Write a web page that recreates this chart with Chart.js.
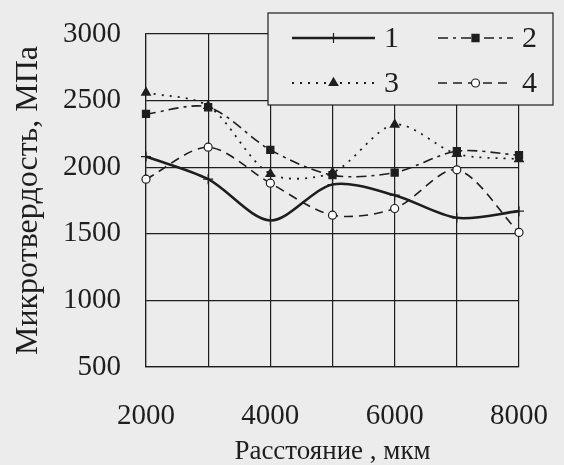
<!DOCTYPE html>
<html>
<head>
  <title>Микротвердость</title>
  <script src="https://cdn.jsdelivr.net/npm/chart.js"></script>
  <style>
    body { margin: 0; background: #ececec; }
    canvas { display: block; }
  </style>
</head>
<body>

<canvas id="hardChart" width="564" height="465"></canvas>

<script>
  // distances, mkm
  const distances = [2000, 3000, 4000, 5000, 6000, 7000, 8000];
  const series1 = [2080, 1910, 1600, 1870, 1790, 1620, 1670];
  const series2 = [2400, 2450, 2130, 1940, 1960, 2120, 2090];
  const series3 = [2560, 2460, 1950, 1960, 2320, 2100, 2060];
  const series4 = [1910, 2150, 1880, 1640, 1690, 1980, 1510];
  const seriesNames = ['1', '2', '3', '4'];
  const xTickLabels = [2000, 4000, 6000, 8000];

  const BG = '#ececec';
  const INK = '#1e1e1e';
  const FONT = "'Liberation Serif', 'DejaVu Serif', serif";

  const toPoints = vals => vals.map((v, i) => ({ x: distances[i], y: v }));

  const datasets = [
    { label: seriesNames[0], data: toPoints(series1), borderWidth: 2.6, borderDash: [],
      pointStyle: 'cross', pointRadius: 5, backgroundColor: INK },
    { label: seriesNames[1], data: toPoints(series2), borderWidth: 1.6, borderDash: [10, 5, 3, 5],
      pointStyle: 'rect', pointRadius: 5, backgroundColor: INK },
    { label: seriesNames[2], data: toPoints(series3), borderWidth: 1.8, borderDash: [2, 6],
      pointStyle: 'triangle', pointRadius: 5, backgroundColor: INK },
    { label: seriesNames[3], data: toPoints(series4), borderWidth: 1.6, borderDash: [9, 6],
      pointStyle: 'circle', pointRadius: 4, backgroundColor: '#ffffff' }
  ].map(d => Object.assign(d, {
    borderColor: INK,
    pointBorderColor: INK,
    pointBackgroundColor: d.backgroundColor,
    pointBorderWidth: 1.2,
    tension: 0.3,
    fill: false,
    clip: false
  }));

  // legend drawn as a box with line samples, like the original figure
  const boxLegend = {
    id: 'boxLegend',
    afterDraw(chart) {
      const ctx = chart.ctx;
      ctx.save();
      ctx.fillStyle = BG;
      ctx.strokeStyle = INK;
      ctx.lineWidth = 1.2;
      ctx.fillRect(268, 13, 285, 92);
      ctx.strokeRect(268, 13, 285, 92);

      const slots = [[292, 38], [438, 38], [292, 83], [438, 83]];
      chart.data.datasets.forEach((d, i) => {
        const [x, y] = slots[i];
        const w = i % 2 ? 75 : 83;
        ctx.strokeStyle = d.borderColor;
        ctx.lineWidth = d.borderWidth;
        ctx.setLineDash(d.borderDash);
        ctx.beginPath();
        ctx.moveTo(x, y);
        ctx.lineTo(x + w, y);
        ctx.stroke();
        ctx.setLineDash([]);
        ctx.fillStyle = d.pointBackgroundColor;
        ctx.lineWidth = d.pointBorderWidth;
        Chart.helpers.drawPoint(ctx, {
          pointStyle: d.pointStyle, radius: d.pointRadius, rotation: 0, borderWidth: 1.2
        }, x + w / 2, y);
        ctx.fillStyle = INK;
        ctx.font = '30px ' + FONT;
        ctx.textBaseline = 'middle';
        ctx.fillText(d.label, x + w + 9, y + 1);
      });
      ctx.restore();
    }
  };

  new Chart(document.getElementById('hardChart'), {
    type: 'line',
    data: { datasets: datasets },
    plugins: [boxLegend],
    options: {
      responsive: false,
      animation: false,
      layout: { padding: { top: 34, right: 45, left: 0, bottom: 0 } },
      plugins: { legend: { display: false }, tooltip: { enabled: false } },
      scales: {
        x: {
          type: 'linear',
          min: 2000,
          max: 8000,
          afterFit: s => { s.height = 98; },
          border: { color: INK, width: 1.2 },
          grid: { color: INK, lineWidth: 1.2, drawTicks: true, tickLength: 22, tickColor: 'rgba(0,0,0,0)' },
          ticks: {
            stepSize: 1000,
            padding: 10,
            color: INK,
            font: { family: FONT, size: 29 },
            maxRotation: 0,
            autoSkip: false,
            callback: v => xTickLabels.includes(v) ? String(v) : ''
          },
          title: {
            display: true,
            text: 'Расстояние , мкм',
            color: INK,
            font: { family: FONT, size: 27, lineHeight: 1 },
            padding: { top: 0, bottom: 0 }
          }
        },
        y: {
          min: 500,
          max: 3000,
          afterFit: s => { s.width = 146; },
          border: { color: INK, width: 1.2 },
          grid: { color: INK, lineWidth: 1.2, drawTicks: true, tickLength: 15, tickColor: 'rgba(0,0,0,0)' },
          ticks: {
            stepSize: 500,
            padding: 10,
            color: INK,
            font: { family: FONT, size: 29 },
            callback: v => String(v)
          },
          title: {
            display: true,
            text: 'Микротвердость, МПа',
            color: INK,
            font: { family: FONT, size: 32 },
            padding: { top: 9, bottom: 0 }
          }
        }
      }
    }
  });
</script>

</body>
</html>
